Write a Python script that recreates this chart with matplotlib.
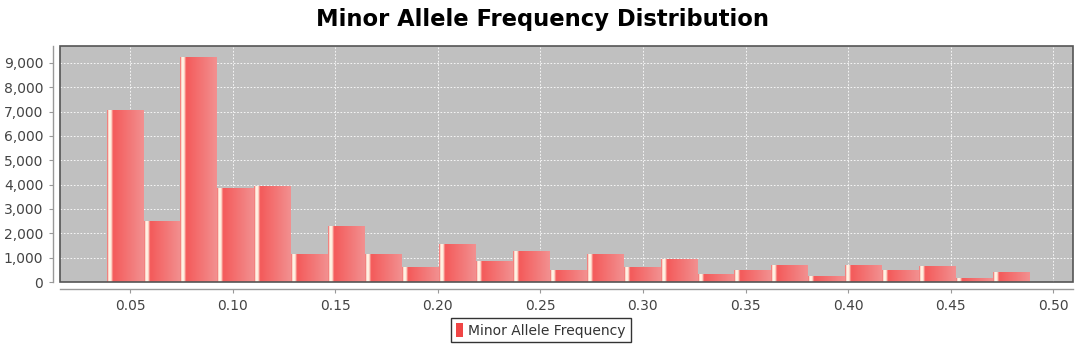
import numpy as np
import matplotlib
matplotlib.use("Agg")
import matplotlib.pyplot as plt
from matplotlib.colors import LinearSegmentedColormap
from matplotlib.patches import Rectangle
from matplotlib.ticker import FuncFormatter


# histogram counts, one per bin (25 bins)
counts = [7030, 2500, 9230, 3830, 3920, 1140, 2280, 1130, 590, 1520,
          860, 1250, 490, 1130, 580, 920, 300, 480, 660, 230,
          660, 480, 620, 160, 380]
maf_min = 0.0386
bin_width = 0.018

x_ticks = [0.05, 0.10, 0.15, 0.20, 0.25, 0.30, 0.35, 0.40, 0.45, 0.50]
y_ticks = [0, 1000, 2000, 3000, 4000, 5000, 6000, 7000, 8000, 9000]

BAR_CMAP = LinearSegmentedColormap.from_list(
    "bar", [(0.0, "#f06a6a"), (0.04, "#fff4e6"), (0.10, "#fff0e0"),
            (0.16, "#f45a5a"), (1.0, "#f29090")])


def main():
    fig = plt.figure(figsize=(10.84, 3.5), dpi=100)
    ax = fig.add_axes([60 / 1084, 68 / 350, 1013 / 1084, 236 / 350])
    ax.set_facecolor("#c0c0c0")

    ax.grid(True, color="white", linestyle=(0, (2, 2)), linewidth=0.6)
    ax.set_axisbelow(True)

    grad = np.linspace(0, 1, 64).reshape(1, -1)
    lefts = maf_min + bin_width * np.arange(len(counts))
    for left, h in zip(lefts, counts):
        ax.imshow(grad, cmap=BAR_CMAP, aspect="auto", interpolation="bilinear",
                  extent=(left, left + bin_width, 0, h), zorder=2)
    ax.set_xlim(0.0159, 0.5096)
    ax.set_ylim(0, 9690)

    # plot area border
    ax.add_patch(Rectangle((0, 0), 1, 1, transform=ax.transAxes, fill=False,
                           edgecolor="#555555", linewidth=1.2, zorder=5, clip_on=False))

    for side in ("top", "right"):
        ax.spines[side].set_visible(False)
    for side in ("left", "bottom"):
        ax.spines[side].set_position(("outward", 5))
        ax.spines[side].set_color("#999999")
        ax.spines[side].set_linewidth(1.0)

    ax.set_xticks(x_ticks)
    ax.set_yticks(y_ticks)
    ax.xaxis.set_major_formatter(FuncFormatter(lambda v, p: f"{v:.2f}"))
    ax.yaxis.set_major_formatter(FuncFormatter(lambda v, p: f"{int(v):,}"))
    ax.tick_params(axis="both", direction="out", length=3, width=0.8,
                   color="#999999", labelcolor="#444444", labelsize=10, pad=4)

    fig.suptitle("Minor Allele Frequency Distribution", x=0.5, y=0.978,
                 fontsize=16.3, fontweight="bold", color="black")

    handle = Rectangle((0, 0), 1, 1, facecolor="#f04545", edgecolor="none")
    leg = fig.legend([handle], ["Minor Allele Frequency"], loc="center",
                     bbox_to_anchor=(0.499, 0.056), fontsize=10, frameon=True,
                     fancybox=False, handlelength=0.5, handleheight=1.1,
                     handletextpad=0.4, borderpad=0.35, borderaxespad=0)
    leg.get_frame().set_edgecolor("black")
    leg.get_frame().set_linewidth(1.0)
    for t in leg.get_texts():
        t.set_color("#333333")

    fig.savefig("out.png", dpi=100)
    plt.close(fig)


if __name__ == "__main__":
    main()
